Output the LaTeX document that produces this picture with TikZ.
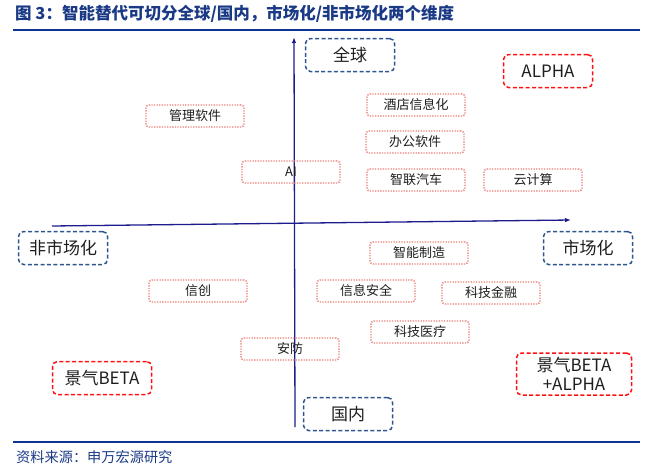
\documentclass[tikz,border=0pt]{standalone}
\usepackage{fontspec}
\setmainfont{Noto Sans CJK SC}
\usetikzlibrary{arrows.meta}
\definecolor{axisblue}{HTML}{1C1C8C}
\definecolor{boxblue}{HTML}{2E5590}
\definecolor{boxred}{HTML}{FF1010}
\definecolor{dotred}{HTML}{EC7C74}
\definecolor{titleblue}{HTML}{1B3A86}
\definecolor{ruleblue}{HTML}{0A3594}
\definecolor{inktext}{HTML}{1E1E1E}
\tikzset{
  bigbox/.style={draw=boxblue, line width=1.5pt, dash pattern=on 4pt off 2.4pt, rounded corners=5pt,
    minimum width=89pt, minimum height=33pt, inner sep=0pt, text=inktext,
    font=\fontsize{17}{20}\selectfont},
  redbox/.style={bigbox, draw=boxred},
  smallbox/.style={draw=dotred, line width=1.4pt, dash pattern=on 1.3pt off 1.3pt, rounded corners=3pt,
    minimum width=98pt, minimum height=22pt, inner sep=0pt, text=inktext,
    font=\fontsize{13}{15}\selectfont},
  axisline/.style={draw=axisblue, line width=1.3pt, -{Latex[length=6pt,width=4.5pt]}}
}
\begin{document}
\begin{tikzpicture}[x=1pt,y=-1pt]
\useasboundingbox (0,0) rectangle (652,471);
% title and rules
\node[anchor=west, inner sep=0pt, text=titleblue, font=\bfseries\fontsize{16.5}{19}\selectfont] (title) at (15,14)
  {图 3：智能替代可切分全球/国内，市场化/非市场化两个维度};
\coordinate (tl) at (13,30); \coordinate (tr) at (640,30);
\draw[ruleblue, line width=2pt] (tl) -- (tr);
\coordinate (bl) at (13,442); \coordinate (br) at (640,442);
\draw[ruleblue, line width=2pt] (bl) -- (br);
\node[anchor=west, inner sep=0pt, text=titleblue, font=\fontsize{14.2}{17}\selectfont] (src) at (16,457)
  {资料来源：申万宏源研究};
% axes
\coordinate (xs) at (52,226); \coordinate (xe) at (571,220);
\coordinate (ys) at (295,427); \coordinate (ye) at (294,37);
\draw[axisline] (xs) -- (xe);
\draw[axisline] (ys) -- (ye);
% axis labels
\node[bigbox] (global) at (350,55) {全球};
\node[bigbox] (domestic) at (348,414) {国内};
\node[bigbox] (nonmkt) at (63,248) {非市场化};
\node[bigbox] (mkt) at (588,248) {市场化};
% corner labels
\node[redbox] (alpha) at (548,71) {ALPHA};
\node[redbox, minimum width=99pt] (beta) at (102,378) {景气BETA};
\node[redbox, minimum width=115pt, minimum height=42pt, align=center, font=\fontsize{17}{19}\selectfont] (betaalpha) at (574,374) {景气BETA\\+ALPHA};
% sectors
\node[smallbox] (mgmt) at (195,116) {管理软件};
\node[smallbox] (ai) at (291,172) {AI};
\node[smallbox] (hotel) at (416,105) {酒店信息化};
\node[smallbox] (office) at (415,142) {办公软件};
\node[smallbox] (car) at (416,180) {智联汽车};
\node[smallbox] (cloud) at (533,180) {云计算};
\node[smallbox] (xinchuang) at (198,291) {信创};
\node[smallbox] (security) at (290,349) {安防};
\node[smallbox] (manu) at (419,253) {智能制造};
\node[smallbox] (infosec) at (366,291) {信息安全};
\node[smallbox] (fintech) at (491,293) {科技金融};
\node[smallbox] (medtech) at (420,332) {科技医疗};
\end{tikzpicture}
\end{document}
